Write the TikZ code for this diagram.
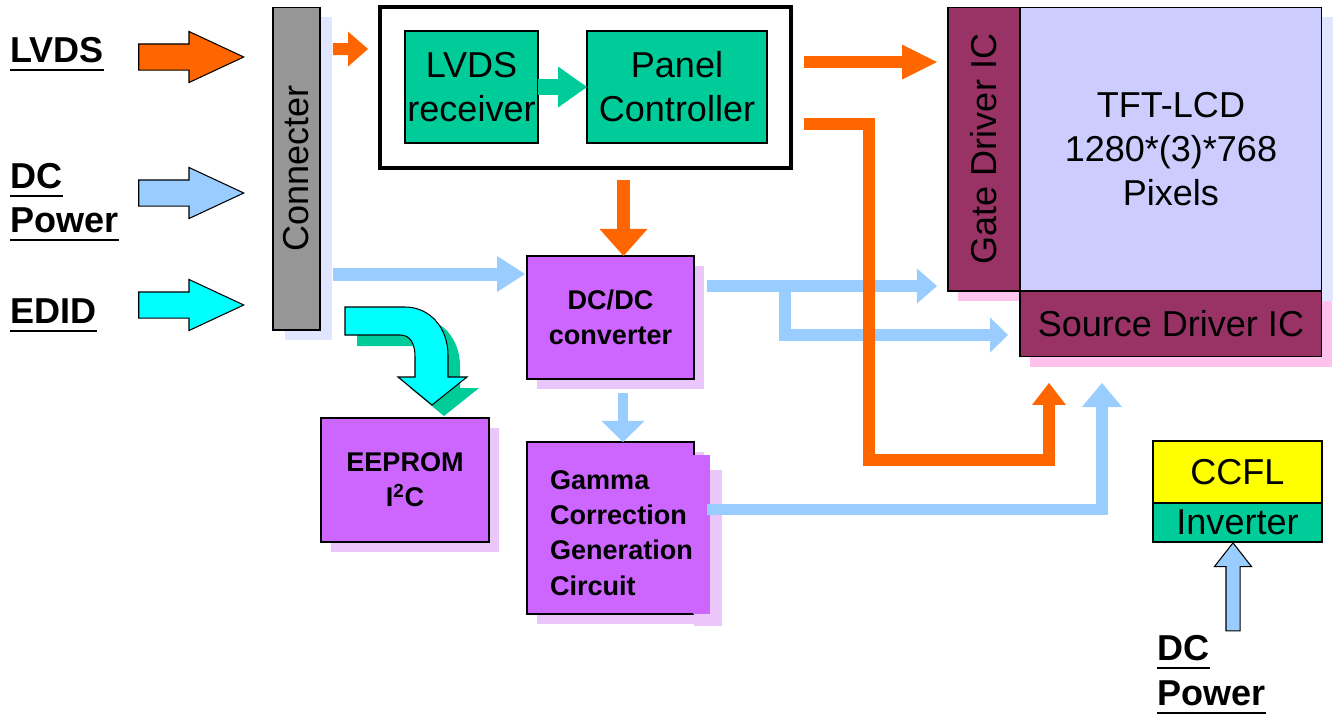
\documentclass[tikz,border=0pt]{standalone}
\usepackage{fontspec}
\setmainfont{Liberation Sans}
\usetikzlibrary{arrows.meta, calc, positioning, shapes.arrows, shadows}

\definecolor{lvdsorange}{HTML}{FF6600}
\definecolor{powerblue}{HTML}{99CCFF}
\definecolor{edidcyan}{HTML}{00FFFF}
\definecolor{chipgreen}{HTML}{00CC99}
\definecolor{blockpurple}{HTML}{CC66FF}
\definecolor{drivermaroon}{HTML}{993366}
\definecolor{panellavender}{HTML}{CCCCFF}
\definecolor{conngray}{HTML}{969696}
\definecolor{lampyellow}{HTML}{FFFF00}
\definecolor{lilacshadow}{HTML}{EAC6FA}
\definecolor{pinkshadow}{HTML}{FFC2EC}
\definecolor{paleshadow}{HTML}{E0E6FF}

\newcommand{\bigtext}{\fontsize{20.5}{25}\selectfont}
\newcommand{\boxtext}{\bfseries\fontsize{15.4}{20}\selectfont}

\begin{document}
\begin{tikzpicture}[x=0.02cm, y=-0.02cm,
    box/.style={draw=black, line width=0.6pt, inner sep=0pt, outer sep=0pt, font=\bigtext},
    purplebox/.style={box, fill=blockpurple, font=\boxtext, align=center, minimum width=3.34cm,
      general shadow={shadow xshift=5.7pt, shadow yshift=-5.7pt, fill=lilacshadow}},
    drivers/.style={box, fill=drivermaroon,
      general shadow={shadow xshift=5.7pt, shadow yshift=-5.7pt, fill=pinkshadow}},
    signal/.style={anchor=base west, inner sep=0pt, font=\bigtext\bfseries},
    inarrow/.style={single arrow, draw=black, line width=0.6pt, inner xsep=0pt, inner ysep=0.25cm, anchor=tip,
      minimum height=2.1cm, minimum width=1cm, single arrow head extend=0.25cm, single arrow tip angle=50},
    flow/.style={line width=6.8pt, -{Triangle[width=19.9pt, length=11.4pt, line width=0pt]}},
    arrowhead/.style 2 args={-{Triangle[width=#1, length=#2, line width=0pt]}}
  ]
  \useasboundingbox (0,0) rectangle (1333,714);

  % signals coming in
  \node[signal] (lvdslbl) at (10,62) {LVDS};
  \node[signal] (dclbl) at (10,188) {DC};
  \node[signal] (pwrlbl) at (10,232) {Power};
  \node[signal] (edidlbl) at (10,323) {EDID};
  \node[signal] (lampdclbl) at (1157,660) {DC};
  \node[signal] (lamppwrlbl) at (1157,705) {Power};
  \foreach \lbl in {lvdslbl, dclbl, pwrlbl, edidlbl, lampdclbl, lamppwrlbl}
    \draw[line width=1.2pt] ([yshift=-4.5pt]\lbl.base west) -- ([yshift=-4.5pt]\lbl.base east);

  \node[inarrow, fill=lvdsorange] (lvdsin) at (245,57) {};
  \node[inarrow, fill=powerblue] (dcin) at (245,193) {};
  \node[inarrow, fill=edidcyan] (edidin) at (245,305) {};

  % boxes
  \node[box, fill=conngray, minimum width=0.94cm, minimum height=6.46cm,
    general shadow={shadow xshift=6.8pt, shadow yshift=-5.7pt, fill=paleshadow}] (conn) at (296.5,168.5) {\rotatebox{90}{Connecter}};
  \node[box, line width=2.3pt, minimum width=8.22cm, minimum height=3.22cm] (lvdsbox) at (585.5,87.5) {};
  \node[box, fill=chipgreen, align=center, minimum width=2.66cm, minimum height=2.24cm] (rx) at (471.5,87) {LVDS\\receiver};
  \node[box, fill=chipgreen, align=center, minimum width=3.6cm, minimum height=2.24cm] (pc) at (677,87) {Panel\\Controller};
  \node[purplebox, minimum height=2.46cm] (dcdc) at (610.5,317.5) {DC/DC\\converter};
  \node[purplebox, minimum width=3.36cm, minimum height=2.48cm] (eeprom) at (405,480) {EEPROM\\I\textsuperscript{2}C};
  \node[purplebox, align=left, minimum height=3.44cm] (gamma) at (610.5,528)
    {\rule{0pt}{16.5pt}\hspace*{12.5pt}Gamma\\\hspace*{12.5pt}Correction\\\hspace*{12.5pt}Generation\\\hspace*{12.5pt}Circuit};
  \fill[lilacshadow] ($(gamma.north east)+(0,28)$) rectangle ($(gamma.south east)+(28,12)$);
  \fill[blockpurple] ($(gamma.north east)+(-0.5,13)$) rectangle ($(gamma.south east)+(16,0)$);

  \node[drivers, minimum width=1.44cm, minimum height=5.68cm] (gate) at (984,149) {\rotatebox{90}{Gate Driver IC}};
  \node[box, fill=panellavender, align=center, minimum width=6.04cm, minimum height=5.68cm,
    general shadow={shadow xshift=6.8pt, shadow yshift=-5.7pt, fill=paleshadow}, right=0pt of gate] (tft) {TFT-LCD\\1280*(3)*768\\Pixels};
  \node[drivers, minimum width=6.04cm, minimum height=1.32cm, below=0pt of tft] (src) {Source Driver IC};

  \node[box, fill=lampyellow, minimum width=3.38cm, minimum height=1.24cm] (ccfl) at (1237.5,472) {CCFL};
  \node[box, fill=chipgreen, minimum width=3.38cm, minimum height=0.78cm, below=0pt of ccfl] (inv) {Inverter};
  \node[inarrow, fill=powerblue, rotate=90, inner ysep=0.13cm, minimum height=1.76cm, minimum width=0.72cm,
    single arrow head extend=0.23cm, single arrow tip angle=76] (lampin) at ($(inv.south)+(-4.5,0)$) {};

  % EDID bend to the EEPROM
  \def\edidbend{(345,307) -- (405,307) .. controls (430,307) and (448,328) .. (448,355) -- (448,377) -- (467,377)
    -- (432,405) -- (398,377) -- (415,377) -- (415,357) .. controls (415,343) and (410,335) .. (400,335) -- (345,335) -- cycle}
  \fill[chipgreen, shift={(12,11)}] \edidbend;
  \filldraw[fill=edidcyan, draw=black, line width=0.6pt] \edidbend;

  % power
  \coordinate (dcfeed) at ($(dcdc.north west)+(-2,18)$);
  \draw[flow, powerblue, line width=7.4pt, arrowhead={20.5pt}{15.9pt}] ($(conn.east |- dcfeed)+(13,0)$) -- (dcfeed);
  \coordinate (dcout) at ($(dcdc.north east)+(13,30)$);
  \draw[flow, powerblue] (dcout) -- ($(gate.west |- dcout)+(-11,0)$);
  \draw[flow, powerblue, arrowhead={19.9pt}{10.2pt}] ($(dcout)+(78,0)$) |- ($(src.west)+(-12,11)$);
  \draw[flow, powerblue, line width=6.2pt, arrowhead={24.5pt}{12pt}] ($(dcdc.south)+(12.5,14)$) coordinate (gmin) -- (gmin |- gamma.north);
  \draw[flow, powerblue, arrowhead={22.8pt}{13.7pt}] ($(gamma.east)+(13,-18.5)$) -| ($(src.south west)+(82,26)$);

  % LVDS data
  \draw[flow, lvdsorange] ($(conn.north east)+(13,42)$) -- ($(lvdsbox.north west)+(-12,42)$);
  \draw[flow, chipgreen, line width=9.1pt, arrowhead={23.3pt}{16.5pt}] (rx) -- (pc);
  \draw[flow, lvdsorange, line width=7.4pt, arrowhead={27.3pt}{15.4pt}] ($(lvdsbox.south)+(38,12)$) coordinate (ctrlout) -- (ctrlout |- dcdc.north);
  \draw[flow, lvdsorange, arrowhead={19.9pt}{19.9pt}] ($(lvdsbox.north east)+(13,55)$) coordinate (gateout) -- ($(gate.west |- gateout)+(-11,0)$);
  \draw[flow, lvdsorange, arrowhead={19.3pt}{12.5pt}] ($(lvdsbox.north east)+(13,117)$) -| ($(lvdsbox.north east)+(78,453)$) -| ($(src.south west)+(29,26)$);
\end{tikzpicture}
\end{document}
